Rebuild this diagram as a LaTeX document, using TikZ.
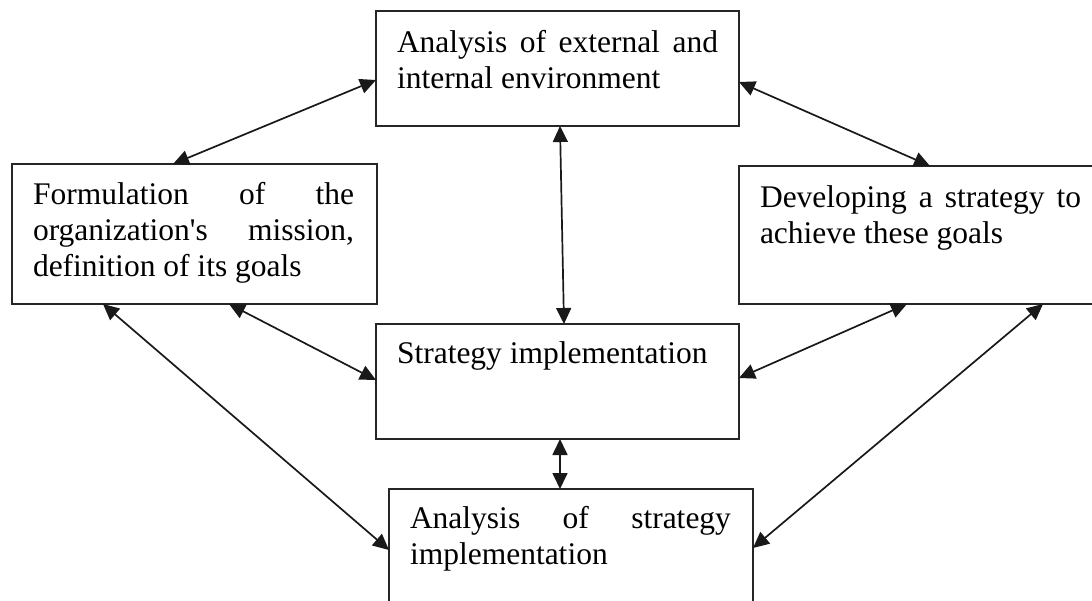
\documentclass[tikz,border=0pt]{standalone}
\usepackage{fontspec}
\setmainfont{Liberation Serif}
\usetikzlibrary{arrows.meta,calc}
\begin{document}
\begin{tikzpicture}[x=1pt,y=-1pt,
  box/.style={draw=black!85, line width=1.7pt, rectangle, inner sep=0pt, outer sep=0pt},
  txt/.style={anchor=north west, inner sep=0pt, outer sep=0pt, text width=321pt, align=justify,
    font={\fontsize{31.5}{36}\selectfont\hyphenpenalty=10000 }},
  link/.style={line width=1.7pt, draw=black!90, {Triangle[length=16pt,width=15pt]}-{Triangle[length=16pt,width=15pt]}}]
\useasboundingbox (0,0) rectangle (1092,600);
% boxes
\node[box, minimum width=363pt, minimum height=115pt] (top) at (557.5,68.5) {};
\node[box, minimum width=365pt, minimum height=140pt] (left) at (194.5,234) {};
\node[box, minimum width=363pt, minimum height=138pt] (right) at (920.5,235) {};
\node[box, minimum width=363pt, minimum height=115pt] (mid) at (557.5,381.5) {};
\node[box, minimum width=364pt, minimum height=140pt] (bot) at (571,559) {};
% texts
\node[txt] (ttop) at ($(top.north west)+(21,15.8)$) {\strut Analysis of external and\linebreak internal environment};
\node[txt] (tleft) at ($(left.north west)+(21,14.8)$) {\strut Formulation of the\linebreak organization\textquotesingle s mission,\linebreak definition of its goals};
\node[txt] (tright) at ($(right.north west)+(21,15.8)$) {\strut Developing a strategy to\linebreak achieve these goals};
\node[txt] (tmid) at ($(mid.north west)+(21,13.8)$) {\strut Strategy implementation};
\node[txt] (tbot) at ($(bot.north west)+(21,13.8)$) {\strut Analysis of strategy\linebreak implementation};
% connectors
\draw[link] ($(left.north west)+(161,0)$) -- ($(top.north west)+(0,69)$);
\draw[link] ($(top.north east)+(0,71)$) -- ($(right.north west)+(191,0)$);
\draw[link] ($(top.south west)+(184,0)$) -- ($(mid.north west)+(188,0)$);
\draw[link] ($(left.south west)+(217,0)$) -- ($(mid.north west)+(0,56)$);
\draw[link] ($(left.south west)+(91,0)$) -- ($(bot.north west)+(0,61)$);
\draw[link] ($(right.south west)+(168,0)$) -- ($(mid.north east)+(0,54)$);
\draw[link] ($(right.south west)+(304,0)$) -- ($(bot.north east)+(0,59)$);
\draw[link] ($(mid.south west)+(184,0)$) -- ($(bot.north west)+(171,0)$);
\end{tikzpicture}
\end{document}
